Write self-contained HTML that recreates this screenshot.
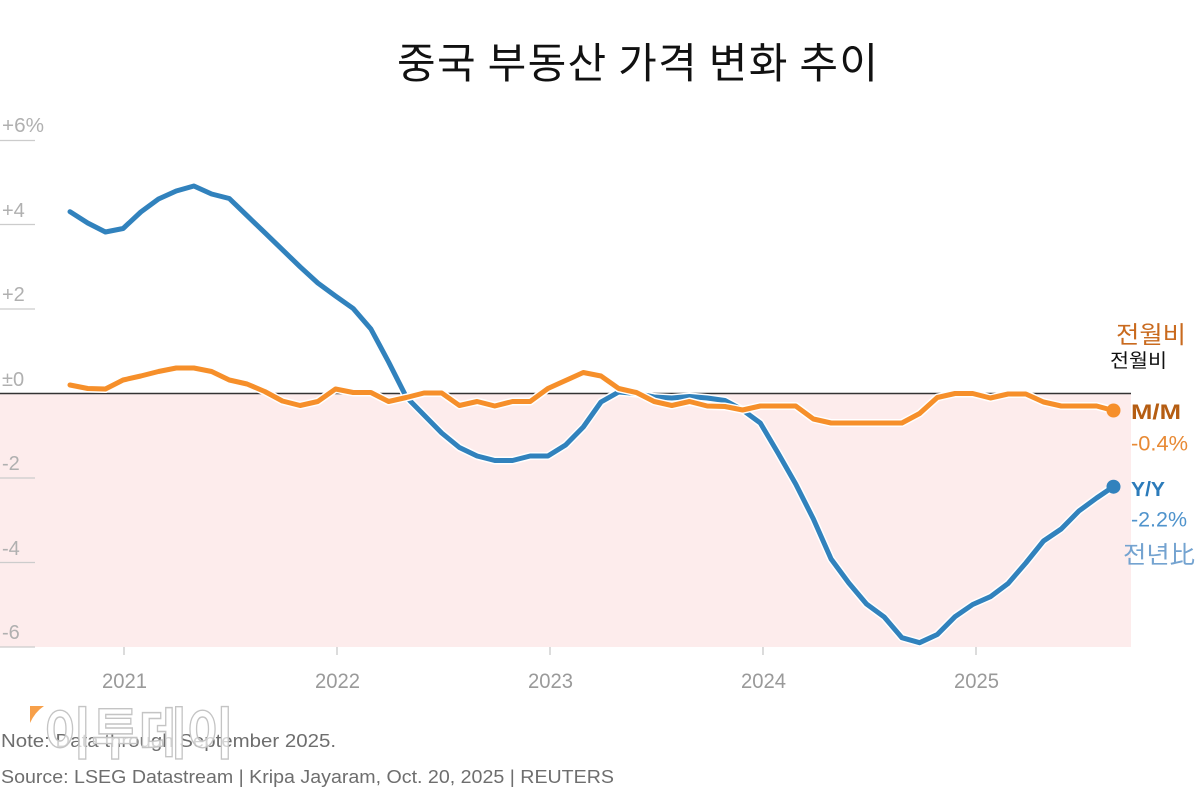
<!DOCTYPE html>
<html>
<head>
<meta charset="utf-8">
<style>
html,body{margin:0;padding:0;background:#fff;}
svg{display:block;}
text{font-family:"Liberation Sans","Noto Sans CJK KR",sans-serif;}
.k{font-family:"Noto Sans CJK KR","Liberation Sans",sans-serif;}
</style>
</head>
<body>
<svg width="1200" height="789" viewBox="0 0 1200 789" xmlns="http://www.w3.org/2000/svg">
  <rect x="0" y="0" width="1200" height="789" fill="#ffffff"/>

  <!-- Title -->
  <text class="k" x="397" y="78" font-size="42" fill="#111" textLength="481" lengthAdjust="spacing">중국 부동산 가격 변화 추이</text>

  <!-- negative region -->
  <rect x="0" y="393.5" width="1131" height="253.5" fill="#fdecec"/>

  <!-- y gridline stubs -->
  <g stroke="#cccccc" stroke-width="1.3">
    <line x1="0" y1="140.5" x2="35" y2="140.5"/>
    <line x1="0" y1="224.5" x2="35" y2="224.5"/>
    <line x1="0" y1="309" x2="35" y2="309"/>
    <line x1="0" y1="478" x2="35" y2="478"/>
    <line x1="0" y1="562.5" x2="35" y2="562.5"/>
    <line x1="0" y1="647" x2="35" y2="647"/>
  </g>
  <!-- y labels -->
  <g font-size="20" fill="#b0b0b0">
    <text x="2" y="132" textLength="42" lengthAdjust="spacingAndGlyphs">+6%</text>
    <text x="2" y="217">+4</text>
    <text x="2" y="301">+2</text>
    <text x="2" y="386">±0</text>
    <text x="2" y="470">-2</text>
    <text x="2" y="555">-4</text>
    <text x="2" y="639">-6</text>
  </g>

  <!-- x ticks -->
  <g stroke="#c8c8c8" stroke-width="1.3">
    <line x1="124" y1="647" x2="124" y2="655"/>
    <line x1="337" y1="647" x2="337" y2="655"/>
    <line x1="550" y1="647" x2="550" y2="655"/>
    <line x1="763" y1="647" x2="763" y2="655"/>
    <line x1="976" y1="647" x2="976" y2="655"/>
  </g>
  <g font-size="21" fill="#9a9a9a" text-anchor="middle">
    <text x="124.5" y="688" textLength="45" lengthAdjust="spacingAndGlyphs">2021</text>
    <text x="337.5" y="688" textLength="45" lengthAdjust="spacingAndGlyphs">2022</text>
    <text x="550.5" y="688" textLength="45" lengthAdjust="spacingAndGlyphs">2023</text>
    <text x="763.5" y="688" textLength="45" lengthAdjust="spacingAndGlyphs">2024</text>
    <text x="976.5" y="688" textLength="45" lengthAdjust="spacingAndGlyphs">2025</text>
  </g>

  <!-- zero line -->
  <line x1="0" y1="393.5" x2="1131" y2="393.5" stroke="#333" stroke-width="1.5"/>

  <!-- Y/Y line (blue) -->
  <polyline fill="none" stroke="#ffffff" stroke-width="8" stroke-linejoin="round" stroke-linecap="round"
    points="70,211.7 87.7,223 105.4,232 123.1,228.5 140.8,212 158.5,199 176.2,191 193.9,186 211.6,194 229.3,198.5 247,215.6 264.7,232.6 282.4,249.7 300.1,266.8 317.8,283 335.5,296 353.2,308.5 370.9,329 388.6,362 406.3,397 424,415 441.7,433 459.4,447.5 477.1,456 494.8,460.5 512.5,460.5 530.2,456 547.9,456 565.6,445 583.3,427 601,402 618.7,392 636.4,393.5 654.1,397 671.8,398 689.5,396.5 707.2,398 724.9,400.5 742.6,410 760.3,423 778,453 795.7,484 813.4,519 831.1,559 848.8,583 866.5,604 884.2,617 901.9,637.7 919.6,642.7 937.3,634.5 955,616.7 972.7,604.5 990.4,596.7 1008.1,583.5 1025.8,563 1043.5,541 1061.2,529 1078.9,511 1096.6,498 1113.3,486.7"/>
  <polyline fill="none" stroke="#3182bd" stroke-width="5" stroke-linejoin="round" stroke-linecap="round"
    points="70,211.7 87.7,223 105.4,232 123.1,228.5 140.8,212 158.5,199 176.2,191 193.9,186 211.6,194 229.3,198.5 247,215.6 264.7,232.6 282.4,249.7 300.1,266.8 317.8,283 335.5,296 353.2,308.5 370.9,329 388.6,362 406.3,397 424,415 441.7,433 459.4,447.5 477.1,456 494.8,460.5 512.5,460.5 530.2,456 547.9,456 565.6,445 583.3,427 601,402 618.7,392 636.4,393.5 654.1,397 671.8,398 689.5,396.5 707.2,398 724.9,400.5 742.6,410 760.3,423 778,453 795.7,484 813.4,519 831.1,559 848.8,583 866.5,604 884.2,617 901.9,637.7 919.6,642.7 937.3,634.5 955,616.7 972.7,604.5 990.4,596.7 1008.1,583.5 1025.8,563 1043.5,541 1061.2,529 1078.9,511 1096.6,498 1113.3,486.7"/>

  <!-- M/M line (orange) -->
  <polyline fill="none" stroke="#ffffff" stroke-width="8" stroke-linejoin="round" stroke-linecap="round"
    points="70,385 87.7,388.5 105.4,389 123.1,380 140.8,376 158.5,371.5 176.2,368 193.9,368 211.6,371.5 229.3,380 247,384 264.7,391.5 282.4,401 300.1,405.5 317.8,401.5 335.5,389 353.2,392.5 370.9,392.5 388.6,401.5 406.3,397.5 424,393 441.7,393 459.4,405.5 477.1,401.5 494.8,406 512.5,401.5 530.2,401.5 547.9,388.5 565.6,380.5 583.3,372.5 601,376 618.7,388.5 636.4,392.5 654.1,401.5 671.8,405.5 689.5,401.5 707.2,406 724.9,406.5 742.6,410 760.3,406 778,406 795.7,406 813.4,419 831.1,423 848.8,423 866.5,423 884.2,423 901.9,423 919.6,413.5 937.3,397.5 955,393.5 972.7,393.5 990.4,398 1008.1,394 1025.8,394 1043.5,402 1061.2,406 1078.9,406 1096.6,406 1113.3,410.5"/>
  <polyline fill="none" stroke="#f68f2a" stroke-width="5" stroke-linejoin="round" stroke-linecap="round"
    points="70,385 87.7,388.5 105.4,389 123.1,380 140.8,376 158.5,371.5 176.2,368 193.9,368 211.6,371.5 229.3,380 247,384 264.7,391.5 282.4,401 300.1,405.5 317.8,401.5 335.5,389 353.2,392.5 370.9,392.5 388.6,401.5 406.3,397.5 424,393 441.7,393 459.4,405.5 477.1,401.5 494.8,406 512.5,401.5 530.2,401.5 547.9,388.5 565.6,380.5 583.3,372.5 601,376 618.7,388.5 636.4,392.5 654.1,401.5 671.8,405.5 689.5,401.5 707.2,406 724.9,406.5 742.6,410 760.3,406 778,406 795.7,406 813.4,419 831.1,423 848.8,423 866.5,423 884.2,423 901.9,423 919.6,413.5 937.3,397.5 955,393.5 972.7,393.5 990.4,398 1008.1,394 1025.8,394 1043.5,402 1061.2,406 1078.9,406 1096.6,406 1113.3,410.5"/>

  <!-- end dots -->
  <circle cx="1113.5" cy="410.5" r="7" fill="#f68f2a"/>
  <circle cx="1113.5" cy="486.7" r="7" fill="#3182bd"/>

  <!-- right labels -->
  <text class="k" x="1116" y="343" font-size="24" fill="#c96a1e" textLength="70" lengthAdjust="spacingAndGlyphs">전월비</text>
  <text class="k" x="1110" y="367" font-size="19" fill="#111" textLength="57" lengthAdjust="spacingAndGlyphs">전월비</text>
  <text x="1131" y="419" font-size="21" font-weight="bold" fill="#b55d12" textLength="50" lengthAdjust="spacingAndGlyphs">M/M</text>
  <text x="1131" y="450.5" font-size="21" fill="#e88a35" textLength="57" lengthAdjust="spacingAndGlyphs">-0.4%</text>
  <text x="1131" y="496" font-size="20" font-weight="bold" fill="#2c7bba" textLength="34" lengthAdjust="spacingAndGlyphs">Y/Y</text>
  <text x="1131" y="526.5" font-size="21" fill="#4f93cc" textLength="56" lengthAdjust="spacingAndGlyphs">-2.2%</text>
  <text class="k" x="1123" y="563" font-size="24" fill="#74a3d0" textLength="72" lengthAdjust="spacingAndGlyphs">전년比</text>

  <!-- footer -->
  <text x="1" y="747" font-size="18.5" fill="#6e6e6e" textLength="335" lengthAdjust="spacingAndGlyphs">Note: Data through September 2025.</text>
  <text x="1" y="783" font-size="18.5" fill="#6e6e6e" textLength="613" lengthAdjust="spacingAndGlyphs">Source: LSEG Datastream | Kripa Jayaram, Oct. 20, 2025 | REUTERS</text>

  <!-- watermark -->
  <path d="M30,706 L44,706 Q35,712 30,723 Z" fill="#f7a04a"/>
  <text class="k" x="44" y="754" font-size="56" font-weight="bold" fill="#ffffff" fill-opacity="0.7" stroke="#c4c4c4" stroke-width="1.4" textLength="190" lengthAdjust="spacingAndGlyphs">이투데이</text>
</svg>
</body>
</html>
